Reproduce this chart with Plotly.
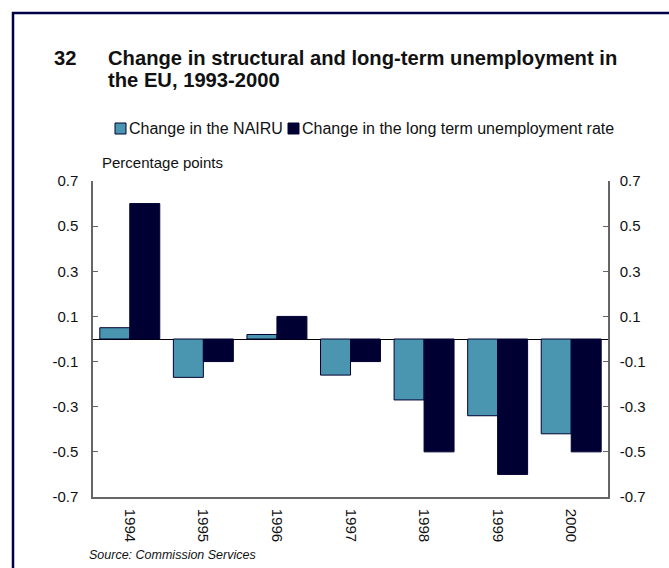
import plotly.graph_objects as go

# Chart data
years = ["1994", "1995", "1996", "1997", "1998", "1999", "2000"]
nairu_change = [0.05, -0.17, 0.02, -0.16, -0.27, -0.34, -0.42]
ltu_change = [0.6, -0.1, 0.1, -0.1, -0.5, -0.6, -0.5]
series_names = ["Change in the NAIRU", "Change in the long term unemployment rate"]
y_tickvals = [0.7, 0.5, 0.3, 0.1, -0.1, -0.3, -0.5, -0.7]
y_ticktext = ["0.7", "0.5", "0.3", "0.1", "-0.1", "-0.3", "-0.5", "-0.7"]

W, H = 669, 568
ML, MR, MT, MB = 93, 61, 181, 71
PW, PH = W - ML - MR, H - MT - MB

LIGHT = "#4A96B0"
DARK = "#000033"
AXIS = "#666666"
FONT = "Liberation Sans, Arial, Helvetica, sans-serif"


def px_x(px):
    return (px - ML) / PW


def px_y(py):
    return (H - MB - py) / PH


fig = go.Figure()
fig.add_trace(go.Bar(x=years, y=nairu_change, name=series_names[0],
                     marker=dict(color=LIGHT, line=dict(color=DARK, width=1)),
                     showlegend=False))
fig.add_trace(go.Bar(x=years, y=ltu_change, name=series_names[1],
                     marker=dict(color=DARK, line=dict(color=DARK, width=1)),
                     showlegend=False))
# Invisible companion trace so the right-hand value axis is drawn
fig.add_trace(go.Scatter(x=years, y=ltu_change, yaxis="y2", mode="markers",
                         marker=dict(opacity=0), hoverinfo="skip", showlegend=False))

axis_common = dict(range=[-0.7, 0.7], tickvals=y_tickvals, ticktext=y_ticktext,
                   ticks="inside", ticklen=5, tickcolor=AXIS, tickwidth=1,
                   showline=True, linecolor=AXIS, linewidth=1.5,
                   showgrid=False, tickfont=dict(family=FONT, size=15, color="#111"))

fig.update_layout(
    width=W, height=H,
    margin=dict(l=ML, r=MR, t=MT, b=MB, autoexpand=False),
    paper_bgcolor="white", plot_bgcolor="white",
    barmode="group", bargap=0.185, bargroupgap=0,
    font=dict(family=FONT, color="#111"),
    xaxis=dict(type="category", showline=True, linecolor=AXIS, linewidth=1.5,
               ticks="", tickangle=90, showgrid=False, ticklabelstandoff=7,
               tickfont=dict(family=FONT, size=15, color="#111")),
    yaxis=dict(**axis_common, zeroline=True, zerolinecolor="black",
               zerolinewidth=1, ticklabelstandoff=10),
    yaxis2=dict(**axis_common, overlaying="y", side="right", zeroline=False,
                ticklabelstandoff=7),
)

annotations = []
TITLE_SIZE = 20.2
# Title, two lines
annotations.append(dict(text="<b>32</b>", x=px_x(52), y=px_y(58), xref="paper", yref="paper",
                        xanchor="left", yanchor="middle", showarrow=False,
                        font=dict(family=FONT, size=TITLE_SIZE, color="#111")))
annotations.append(dict(text="<b>Change in structural and long-term unemployment in</b>",
                        x=px_x(106), y=px_y(58), xref="paper", yref="paper",
                        xanchor="left", yanchor="middle", showarrow=False,
                        font=dict(family=FONT, size=TITLE_SIZE, color="#111")))
annotations.append(dict(text="<b>the EU, 1993-2000</b>",
                        x=px_x(106), y=px_y(80), xref="paper", yref="paper",
                        xanchor="left", yanchor="middle", showarrow=False,
                        font=dict(family=FONT, size=TITLE_SIZE, color="#111")))

# Legend drawn as swatches plus labels
shapes = []
legend_items = [(115, LIGHT, series_names[0]), (288, DARK, series_names[1])]
for x0, col, label in legend_items:
    shapes.append(dict(type="rect", xref="paper", yref="paper",
                       x0=px_x(x0), x1=px_x(x0 + 11), y0=px_y(134), y1=px_y(123),
                       fillcolor=col, line=dict(color=DARK, width=1)))
    annotations.append(dict(text=label, x=px_x(x0 + 12), y=px_y(128.5), xref="paper", yref="paper",
                            xanchor="left", yanchor="middle", showarrow=False,
                            font=dict(family=FONT, size=16, color="#111")))

# Axis unit label
annotations.append(dict(text="Percentage points", x=px_x(100), y=px_y(163), xref="paper", yref="paper",
                        xanchor="left", yanchor="middle", showarrow=False,
                        font=dict(family=FONT, size=15, color="#111")))

# Source note
annotations.append(dict(text="<i>Source: Commission Services</i>", x=px_x(87), y=px_y(555),
                        xref="paper", yref="paper", xanchor="left", yanchor="middle",
                        showarrow=False, font=dict(family=FONT, size=12.5, color="#111")))

# Frame around the chart (open on the right and bottom)
shapes.append(dict(type="path", xref="paper", yref="paper",
                   path=f"M {px_x(13)},{px_y(H + 20)} L {px_x(13)},{px_y(13)} L {px_x(W + 20)},{px_y(13)}",
                   line=dict(color="#00004A", width=2.5)))

fig.update_layout(annotations=annotations, shapes=shapes)
fig.write_html("out.html")
